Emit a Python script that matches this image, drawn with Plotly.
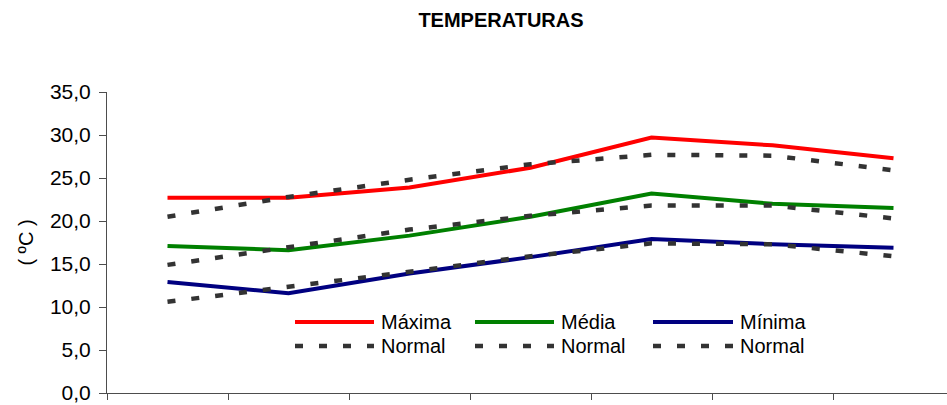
import plotly.graph_objects as go

# Monthly positions along the x axis (no labels shown)
periods = [0, 1, 2, 3, 4, 5, 6]

maxima = [22.7, 22.7, 23.9, 26.2, 29.7, 28.8, 27.3]
maxima_normal = [20.5, 22.8, 24.8, 26.6, 27.7, 27.6, 25.9]

media = [17.1, 16.6, 18.3, 20.5, 23.2, 22.0, 21.5]
media_normal = [14.9, 17.0, 19.0, 20.6, 21.8, 21.8, 20.3]

minima = [12.9, 11.6, 13.9, 15.8, 17.9, 17.3, 16.9]
minima_normal = [10.6, 12.3, 14.1, 15.9, 17.4, 17.3, 15.9]

y_ticks = [0, 5, 10, 15, 20, 25, 30, 35]
x_boundaries = [-0.5, 0.5, 1.5, 2.5, 3.5, 4.5, 5.5]

FONT = "Liberation Sans, Arial, sans-serif"
W, H = 947, 405
ML, MR, MT, MB = 107, 0, 92, 12
PW, PH = W - ML - MR, H - MT - MB

RED, GREEN, NAVY, GREY = "#ff0000", "#008000", "#000080", "#333333"
DASH = "8px,16px"

series = [
    ("Máxima", maxima, RED, "solid", 4),
    ("Normal", maxima_normal, GREY, DASH, 4.5),
    ("Média", media, GREEN, "solid", 4),
    ("Normal", media_normal, GREY, DASH, 4.5),
    ("Mínima", minima, NAVY, "solid", 4),
    ("Normal", minima_normal, GREY, DASH, 4.5),
]

fig = go.Figure()
for name, vals, color, dash, width in series:
    fig.add_trace(go.Scatter(
        x=periods, y=vals, mode="lines", name=name,
        line=dict(color=color, width=width, dash=dash),
        showlegend=False,
    ))

# Legend drawn as line samples + labels in a 3x2 grid
def px_x(px):
    return (px - ML) / PW

def px_y(py):
    return (H - MB - py) / PH

legend_cols = [(295, 374, 379), (475, 554, 559), (653, 733, 738)]
legend_rows = [
    (322, [("Máxima", RED), ("Média", GREEN), ("Mínima", NAVY)], "solid", 4),
    (346, [("Normal", GREY), ("Normal", GREY), ("Normal", GREY)], DASH, 4.5),
]
shapes, annotations = [], []
for ry, entries, dash, width in legend_rows:
    for (x0, x1, tx), (label, color) in zip(legend_cols, entries):
        shapes.append(dict(
            type="line", xref="paper", yref="paper",
            x0=px_x(x0), x1=px_x(x1), y0=px_y(ry), y1=px_y(ry),
            line=dict(color=color, width=width, dash=dash),
        ))
        annotations.append(dict(
            xref="paper", yref="paper", x=px_x(tx), y=px_y(ry),
            xanchor="left", yanchor="middle", showarrow=False,
            text=label, font=dict(family=FONT, size=20, color="#000000"),
        ))

fig.update_layout(
    width=W, height=H,
    margin=dict(l=ML, r=MR, t=MT, b=MB),
    paper_bgcolor="#ffffff", plot_bgcolor="#ffffff",
    separators=",.",
    title=dict(
        text="<b>TEMPERATURAS</b>", x=501 / W, xref="container", xanchor="center",
        y=1 - 20 / H, yref="container", yanchor="middle",
        font=dict(family=FONT, size=20, color="#000000"),
    ),
    shapes=shapes, annotations=annotations,
    xaxis=dict(
        range=[-0.5, -0.5 + PW / 121.0],
        tickmode="array", tickvals=x_boundaries, showticklabels=False,
        ticks="outside", ticklen=6, tickcolor="#4d4d4d",
        showline=True, linecolor="#4d4d4d", linewidth=1,
        showgrid=False, zeroline=False,
    ),
    yaxis=dict(
        range=[0, 35], tickmode="array", tickvals=y_ticks, tickformat=".1f",
        ticks="outside", ticklen=7, tickcolor="#4d4d4d",
        ticklabelstandoff=4,
        showline=True, linecolor="#4d4d4d", linewidth=1,
        showgrid=False, zeroline=False,
        tickfont=dict(family=FONT, size=21, color="#000000"),
        title=dict(text="( ºC )", standoff=10,
                   font=dict(family=FONT, size=20, color="#000000")),
        automargin=False,
    ),
)

fig.write_html("out.html")
